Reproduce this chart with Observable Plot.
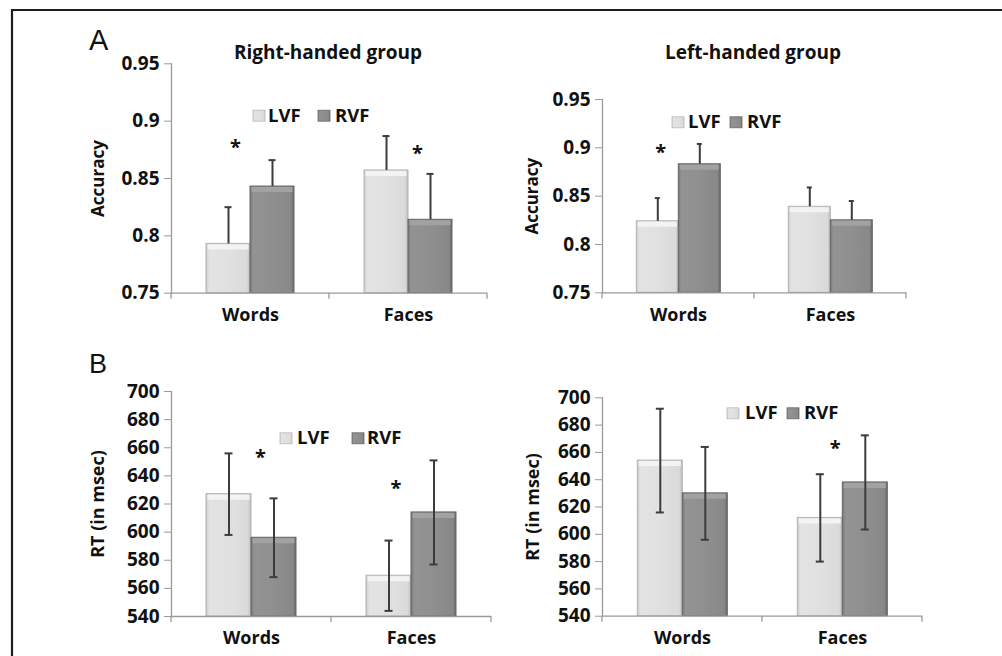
<!DOCTYPE html>
<html><head><meta charset="utf-8">
<script src="https://cdn.jsdelivr.net/npm/d3@7"></script>
<script src="https://cdn.jsdelivr.net/npm/@observablehq/plot@0.6"></script>
<style>
html,body{margin:0;padding:0;background:#fff;}
#root{position:relative;width:1002px;height:656px;overflow:hidden;font-family:"Open Sans",sans-serif;}
.panel{position:absolute;}
.panel svg{overflow:visible;}
#overlay{position:absolute;left:0;top:0;pointer-events:none;}
</style></head>
<body><div id="root">
<svg width="0" height="0" style="position:absolute">
<defs>
<linearGradient id="gradLVF" x1="0" x2="1" y1="0" y2="0">
<stop offset="0" stop-color="#c9c9c9"/><stop offset="0.07" stop-color="#e3e3e3"/><stop offset="0.5" stop-color="#e1e1e1"/><stop offset="0.93" stop-color="#dadada"/><stop offset="1" stop-color="#bcbcbc"/>
</linearGradient>
<linearGradient id="gradRVF" x1="0" x2="1" y1="0" y2="0">
<stop offset="0" stop-color="#767676"/><stop offset="0.07" stop-color="#939393"/><stop offset="0.5" stop-color="#8f8f8f"/><stop offset="0.93" stop-color="#888888"/><stop offset="1" stop-color="#676767"/>
</linearGradient>
</defs></svg>
</div>
<script>
// ---------- data ----------
const categories = ["Words", "Faces"];
const conditions = ["LVF", "RVF"];

// Accuracy, right-handed group (Words, Faces)
const accRightLVF = [0.793, 0.857];
const accRightRVF = [0.843, 0.814];
const accRightLVFErr = [0.032, 0.030];
const accRightRVFErr = [0.023, 0.040];

// Accuracy, left-handed group
const accLeftLVF = [0.824, 0.839];
const accLeftRVF = [0.883, 0.825];
const accLeftLVFErr = [0.024, 0.020];
const accLeftRVFErr = [0.021, 0.020];

// RT, right-handed group
const rtRightLVF = [627, 569];
const rtRightRVF = [596, 614];
const rtRightLVFErr = [29, 25];
const rtRightRVFErr = [28, 37];

// RT, left-handed group
const rtLeftLVF = [654, 612];
const rtLeftRVF = [630, 638];
const rtLeftLVFErr = [38, 32];
const rtLeftRVFErr = [34, 34.5];

const accTicks = [0.75, 0.8, 0.85, 0.9, 0.95];
const rtTicks = [540, 560, 580, 600, 620, 640, 660, 680, 700];

// significance markers
const starsAccRight = [{cat: "Words", cond: "LVF", y: 0.881}, {cat: "Faces", cond: "RVF", y: 0.876}];
const starsAccLeft = [{cat: "Words", cond: "LVF", y: 0.900}];
const starsRtRight = [{cat: "Words", cond: "RVF", y: 656.8}, {cat: "Faces", cond: "LVF", y: 634.4}];
const starsRtLeft = [{cat: "Faces", cond: "LVF", y: 666.3}];

// ---------- layout ----------
const panels = [
  {lvf: accRightLVF, rvf: accRightRVF, lvfErr: accRightLVFErr, rvfErr: accRightRVFErr, both: false,
   yDomain: [0.75, 0.95], ticks: accTicks, label: "Accuracy", labelSize: 17, stars: starsAccRight, starDx: [7, -13],
   pos: {left: 0, top: 40}, g: {width: 500, height: 290, ml: 171, mr: 13, mt: 23.3, mb: 37.3}, labelOffset: 80},
  {lvf: accLeftLVF, rvf: accLeftRVF, lvfErr: accLeftLVFErr, rvfErr: accLeftRVFErr, both: false,
   yDomain: [0.75, 0.95], ticks: accTicks, label: "Accuracy", labelSize: 17, stars: starsAccLeft, starDx: [3],
   pos: {left: 500, top: 40}, g: {width: 500, height: 290, ml: 101.7, mr: 94, mt: 59, mb: 37.7}, labelOffset: 77},
  {lvf: rtRightLVF, rvf: rtRightRVF, lvfErr: rtRightLVFErr, rvfErr: rtRightRVFErr, both: true,
   yDomain: [540, 700], ticks: rtTicks, label: "RT (in msec)", labelSize: 18, stars: starsRtRight, starDx: [-13.5, 7],
   pos: {left: 0, top: 340}, g: {width: 500, height: 316, ml: 171, mr: 8.3, mt: 51, mb: 40}, labelOffset: 80},
  {lvf: rtLeftLVF, rvf: rtLeftRVF, lvfErr: rtLeftLVFErr, rvfErr: rtLeftRVFErr, both: true,
   yDomain: [540, 700], ticks: rtTicks, label: "RT (in msec)", labelSize: 18, stars: starsRtLeft, starDx: [15],
   pos: {left: 500, top: 340}, g: {width: 500, height: 316, ml: 101.7, mr: 78.3, mt: 57.3, mb: 40.3}, labelOffset: 76}
];

const root = document.getElementById("root");
const axisColor = "#9a9a9a";
const errColor = "#3c3c3c";

function drawPanel(p) {
  const rows = [];
  categories.forEach((c, i) => {
    rows.push({cat: c, cond: "LVF", mean: p.lvf[i], err: p.lvfErr[i]});
    rows.push({cat: c, cond: "RVF", mean: p.rvf[i], err: p.rvfErr[i]});
  });
  const lvfRows = rows.filter(d => d.cond === "LVF");
  const rvfRows = rows.filter(d => d.cond === "RVF");
  const y0 = p.yDomain[0];
  const g = p.g;
  const capInset = 18.5;
  const marks = [
    Plot.barY(lvfRows, {fx: "cat", x: "cond", y1: y0, y2: "mean", fill: "url(#gradLVF)", stroke: "#b3b3b3", strokeWidth: 1}),
    Plot.barY(rvfRows, {fx: "cat", x: "cond", y1: y0, y2: "mean", fill: "url(#gradRVF)", stroke: "#666666", strokeWidth: 1}),
    Plot.tickY(lvfRows, {fx: "cat", x: "cond", y: "mean", dy: 3, stroke: "#f3f3f3", strokeWidth: 5, insetLeft: 1.5, insetRight: 1.5}),
    Plot.tickY(rvfRows, {fx: "cat", x: "cond", y: "mean", dy: 3, stroke: "#a2a2a2", strokeWidth: 5, insetLeft: 1.5, insetRight: 1.5}),
    Plot.ruleX(rows, {fx: "cat", x: "cond", y1: p.both ? (d => d.mean - d.err) : "mean", y2: d => d.mean + d.err, stroke: errColor, strokeWidth: 2}),
    Plot.tickY(rows, {fx: "cat", x: "cond", y: d => d.mean + d.err, stroke: errColor, strokeWidth: 2, insetLeft: capInset, insetRight: capInset})
  ];
  if (p.both) {
    marks.push(Plot.tickY(rows, {fx: "cat", x: "cond", y: d => d.mean - d.err, stroke: errColor, strokeWidth: 2, insetLeft: capInset, insetRight: capInset}));
  }
  marks.push(
    Plot.ruleY([y0], {stroke: axisColor, strokeWidth: 1.3}),
    Plot.frame({anchor: "left", facetAnchor: "left", stroke: axisColor, strokeWidth: 1.3}),
    Plot.axisY({ticks: p.ticks, tickFormat: d => String(d), tickSize: 7, tickPadding: 5, stroke: axisColor,
      fill: "#111111", fontSize: 19, label: p.label, labelAnchor: "center", labelArrow: "none", labelOffset: p.labelOffset}),
    Plot.axisFx({anchor: "bottom", tickSize: 0, tickPadding: 15, label: null, fontSize: 18, fill: "#111111"})
  );
  p.stars.forEach((s, i) => {
    marks.push(Plot.text([s], {fx: "cat", x: "cond", y: "y", text: () => "*", dx: p.starDx[i], dy: 5, fontSize: 20, fontWeight: 700, fill: "#111111"}));
  });
  const plot = Plot.plot({
    width: g.width, height: g.height,
    marginLeft: g.ml, marginRight: g.mr, marginTop: g.mt, marginBottom: g.mb,
    style: {fontFamily: '"Open Sans", sans-serif', fontWeight: 700, fontSize: "18px", color: "#111111", background: "none", overflow: "visible"},
    fx: {domain: categories, paddingInner: 0, paddingOuter: 0, label: null, axis: null},
    x: {domain: conditions, paddingInner: 0, paddingOuter: 0.77, axis: null},
    y: {domain: p.yDomain, axis: null},
    marks
  });
  const wrap = document.createElement("div");
  wrap.className = "panel";
  wrap.style.left = p.pos.left + "px";
  wrap.style.top = p.pos.top + "px";
  wrap.appendChild(plot);
  root.appendChild(wrap);
  d3.select(plot).selectAll("g[aria-label='y-axis label'] text").style("font-size", p.labelSize + "px");
  // category boundary tick marks below the axis (from the fx scale)
  let starts;
  try {
    const fx = plot.scale("fx");
    const bw = fx.bandwidth;
    starts = categories.map(c => fx.apply(c));
    starts.push(starts[starts.length - 1] + bw);
  } catch (e) {
    const w = (g.width - g.ml - g.mr) / categories.length;
    starts = d3.range(categories.length + 1).map(i => g.ml + i * w);
  }
  const yb = plot.scale("y").apply(y0);
  const sel = d3.select(plot.tagName.toLowerCase() === "svg" ? plot : plot.querySelector("svg"));
  sel.append("g").selectAll("line").data(starts).join("line")
    .attr("x1", d => d).attr("x2", d => d).attr("y1", yb).attr("y2", yb + 6)
    .attr("stroke", axisColor).attr("stroke-width", 1.3);
}
panels.forEach(drawPanel);

// ---------- overlay: frame, panel letters, titles, legends ----------
const ov = d3.select(root).append("svg").attr("id", "overlay").attr("width", 1002).attr("height", 656);
ov.append("line").attr("x1", 11).attr("x2", 1002).attr("y1", 10).attr("y2", 10).attr("stroke", "#1e1e1e").attr("stroke-width", 2.2);
ov.append("line").attr("x1", 12).attr("x2", 12).attr("y1", 9).attr("y2", 656).attr("stroke", "#1e1e1e").attr("stroke-width", 2.2);

const letters = [{t: "A", x: 89, y: 50, s: 29}, {t: "B", x: 89, y: 373, s: 27}];
ov.selectAll("text.letter").data(letters).join("text").attr("class", "letter")
  .attr("x", d => d.x).attr("y", d => d.y).text(d => d.t)
  .style("font-family", '"Liberation Sans", Arial, sans-serif').style("font-size", d => d.s + "px").attr("fill", "#111111");

const titles = [{t: "Right-handed group", x: 328, y: 58.5}, {t: "Left-handed group", x: 753, y: 58.5}];
ov.selectAll("text.title").data(titles).join("text").attr("class", "title")
  .attr("x", d => d.x).attr("y", d => d.y).attr("text-anchor", "middle").text(d => d.t)
  .style("font-family", '"Open Sans", sans-serif').style("font-weight", 700).style("font-size", "19px").attr("fill", "#111111");

const legends = [
  {y: 121.7, sw: [253, 318], tx: [268, 335]},
  {y: 128.3, sw: [672, 730], tx: [688, 747]},
  {y: 444.3, sw: [280, 352], tx: [297, 367]},
  {y: 419.3, sw: [727, 787], tx: [745, 804]}
];
legends.forEach(L => {
  conditions.forEach((c, i) => {
    ov.append("rect").attr("x", L.sw[i]).attr("y", L.y - 11.5).attr("width", 12).attr("height", 11)
      .attr("fill", i === 0 ? "url(#gradLVF)" : "url(#gradRVF)").attr("stroke", i === 0 ? "#bbbbbb" : "#6a6a6a").attr("stroke-width", 0.8);
    ov.append("text").attr("x", L.tx[i]).attr("y", L.y).text(c)
      .style("font-family", '"Open Sans", sans-serif').style("font-weight", 700).style("font-size", "18.5px").attr("fill", "#111111");
  });
});
</script>
</body></html>
